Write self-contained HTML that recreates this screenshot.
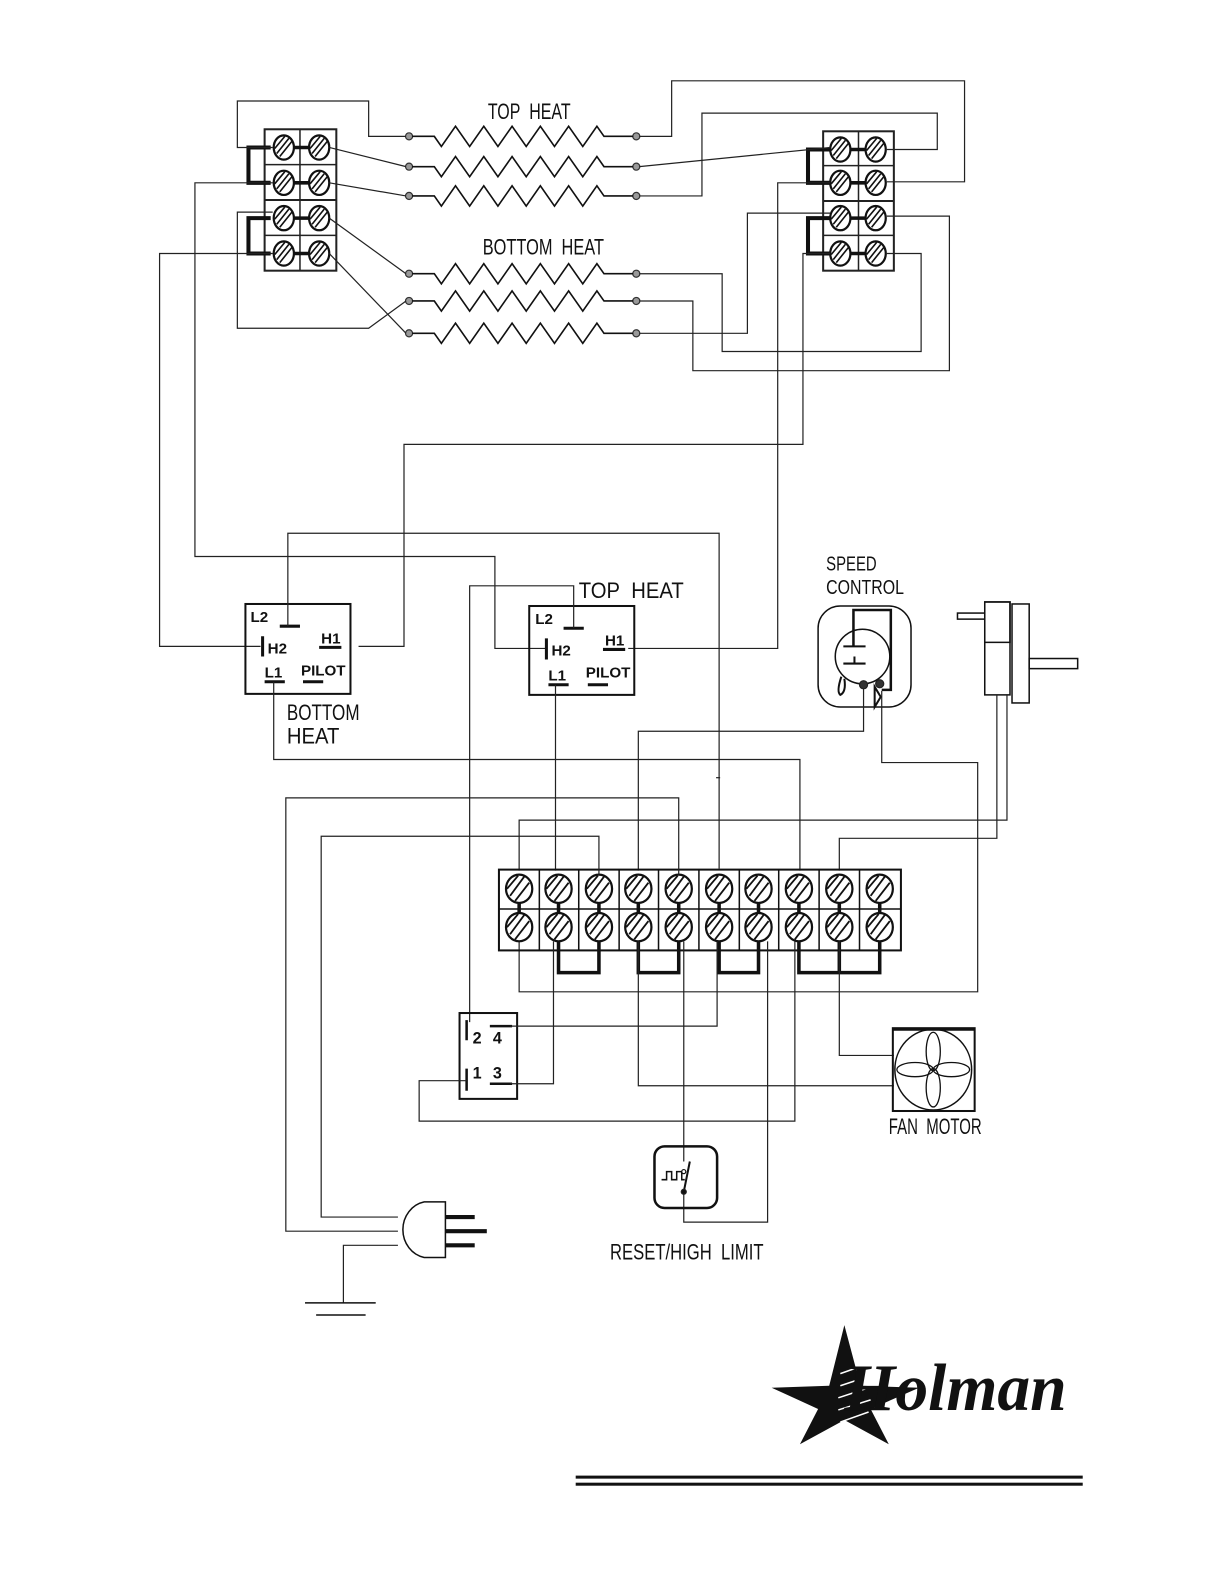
<!DOCTYPE html>
<html><head><meta charset="utf-8"><style>
html,body{margin:0;padding:0;background:#fff;}
svg{display:block}
text{font-family:"Liberation Sans",sans-serif;fill:#111}
</style></head><body>
<svg width="1225" height="1585" viewBox="0 0 1225 1585" xmlns="http://www.w3.org/2000/svg">
<defs>
<g id="sc"><ellipse cx="0" cy="0" rx="10" ry="12" fill="#fff" stroke="#111" stroke-width="2.2"/><line x1="-7" y1="6" x2="5" y2="-9" stroke="#111" stroke-width="1.6"/><line x1="-4" y1="9" x2="8" y2="-6" stroke="#111" stroke-width="1.6"/><line x1="-9" y1="1" x2="1" y2="-11" stroke="#111" stroke-width="1.6"/></g>
<g id="ts"><ellipse cx="0" cy="0" rx="13" ry="14" fill="#fff" stroke="#111" stroke-width="2.2"/><line x1="-9" y1="7" x2="5" y2="-12" stroke="#111" stroke-width="1.8"/><line x1="-4" y1="12" x2="10" y2="-6" stroke="#111" stroke-width="1.8"/><line x1="-12" y1="0" x2="-1" y2="-13" stroke="#111" stroke-width="1.8"/></g>
<g id="res"><circle cx="0" cy="0" r="3.5" fill="#999" stroke="#333"/><circle cx="225" cy="0" r="3.5" fill="#999" stroke="#333"/><path d="M3 0 H25 L32 10 L46 -10 L60 10 L74 -10 L88 10 L102 -10 L116 10 L130 -10 L144 10 L158 -10 L172 10 L186 -10 L193 0 H222" fill="none" stroke="#111" stroke-width="1.6"/></g>
</defs>
<g transform="scale(1.01)" fill="none" stroke="#222" stroke-width="1.2">
<text x="483" y="118" font-size="22" stroke="none" textLength="82" lengthAdjust="spacingAndGlyphs">TOP&#160;&#160;HEAT</text>
<text x="478" y="252" font-size="22" stroke="none" textLength="120" lengthAdjust="spacingAndGlyphs">BOTTOM&#160;&#160;HEAT</text>
<rect x="262" y="128" width="71" height="140" stroke-width="2"/>
<line x1="297" y1="128" x2="297" y2="268" stroke-width="1.5"/>
<line x1="262" y1="163" x2="333" y2="163" stroke-width="1.5"/><line x1="262" y1="198" x2="333" y2="198" stroke-width="2"/><line x1="262" y1="233" x2="333" y2="233" stroke-width="1.5"/>
<path d="M268 146 H246 V181 H268 M268 216 H246 V251 H268" stroke-width="4" stroke="#111"/>
<path d="M291 146 H306 M291 181 H306 M291 216 H306 M291 251 H306" stroke-width="3.5" stroke="#111"/>
<use href="#sc" x="281" y="146"/><use href="#sc" x="316" y="146"/><use href="#sc" x="281" y="181"/><use href="#sc" x="316" y="181"/><use href="#sc" x="281" y="216"/><use href="#sc" x="316" y="216"/><use href="#sc" x="281" y="251"/><use href="#sc" x="316" y="251"/>
<rect x="815" y="130" width="70" height="138" stroke-width="2"/>
<line x1="850" y1="130" x2="850" y2="268" stroke-width="1.5"/>
<line x1="815" y1="164" x2="885" y2="164" stroke-width="1.5"/><line x1="815" y1="199" x2="885" y2="199" stroke-width="2"/><line x1="815" y1="233" x2="885" y2="233" stroke-width="1.5"/>
<path d="M822 148 H800 V181 H822 M822 216 H800 V251 H822" stroke-width="4" stroke="#111"/>
<path d="M842 148 H857 M842 181 H857 M842 216 H857 M842 251 H857" stroke-width="3.5" stroke="#111"/>
<use href="#sc" x="832" y="148"/><use href="#sc" x="867" y="148"/><use href="#sc" x="832" y="181"/><use href="#sc" x="867" y="181"/><use href="#sc" x="832" y="216"/><use href="#sc" x="867" y="216"/><use href="#sc" x="832" y="251"/><use href="#sc" x="867" y="251"/>
<use href="#res" x="405" y="135"/><use href="#res" x="405" y="165"/><use href="#res" x="405" y="194"/>
<use href="#res" x="405" y="271"/><use href="#res" x="405" y="298"/><use href="#res" x="405" y="330"/>
<path d="M270 146 H235 V100 H365 V135 H402"/>
<path d="M326 146 L402 165"/><path d="M326 181 L402 194"/>
<path d="M633 135 H665 V80 H955 V180 H878"/>
<path d="M633 165 L822 146"/>
<path d="M633 194 H695 V112 H928 V148 H878"/>
<path d="M326 216 L402 271"/><path d="M326 251 L402 330"/>
<path d="M402 298 L365 325 H235 V210 H270"/>
<path d="M633 271 H715 V348 H912 V251 H878"/>
<path d="M633 298 H686 V367 H940 V214 H878"/>
<path d="M633 330 H740 V211 H822"/>
<path d="M270 181 H193 V551 H490 V642 H540"/>
<path d="M270 251 H158 V640 H258"/>
<path d="M822 181 H770 V642 H622"/>
<path d="M822 251 H795 V440 H400 V640 H355"/>
<rect x="243" y="598" width="104" height="89" stroke-width="2" stroke="#111"/>
<rect x="524" y="600" width="104" height="88" stroke-width="2" stroke="#111"/>
<g stroke="#111" stroke-width="3"><path d="M277 620 H297 M260 630 V650 M316 641 H338 M262 675 H282 M300 675 H320"/>
<path d="M558 622 H578 M541 632 V653 M597 643 H619 M543 678 H563 M582 678 H602"/></g>
<g stroke="none" font-weight="bold" font-size="15"><text x="248" y="616">L2</text><text x="265" y="647">H2</text><text x="318" y="637">H1</text><text x="262" y="671">L1</text><text x="298" y="669">PILOT</text>
<text x="530" y="618">L2</text><text x="546" y="649">H2</text><text x="599" y="639">H1</text><text x="543" y="674">L1</text><text x="580" y="671">PILOT</text></g>
<text x="284" y="713" font-size="22" stroke="none" textLength="72" lengthAdjust="spacingAndGlyphs">BOTTOM</text>
<text x="284" y="736" font-size="22" stroke="none" textLength="52" lengthAdjust="spacingAndGlyphs">HEAT</text>
<text x="573" y="592" font-size="22" stroke="none" textLength="104" lengthAdjust="spacingAndGlyphs">TOP&#160;&#160;HEAT</text>
<path d="M285 620 V528 H712 V860"/><path d="M709 770 H713"/>
<path d="M568 622 V580 H465 V1012"/>
<path d="M271 675 V752 H792 V862"/>
<path d="M550 678 V862"/>
<text x="818" y="565" font-size="20" stroke="none" textLength="50" lengthAdjust="spacingAndGlyphs">SPEED</text>
<text x="818" y="588" font-size="20" stroke="none" textLength="77" lengthAdjust="spacingAndGlyphs">CONTROL</text>
<rect x="810" y="600" width="92" height="100" rx="22" stroke="#111" stroke-width="1.5"/>
<circle cx="854" cy="650" r="27" stroke="#111" stroke-width="1.5"/>
<path d="M845 640 V604 H882 V683 H873" stroke="#111" stroke-width="2.5"/>
<path d="M835 640 H857 M835 657 H857 M846 650 V657" stroke="#111" stroke-width="2"/>
<circle cx="855" cy="678" r="4" fill="#333"/><circle cx="871" cy="677" r="4" fill="#333"/>
<path d="M833 670 Q828 685 832 688 Q838 685 836 672" stroke="#111" stroke-width="2"/>
<path d="M866 680 L872 690 L866 700 Z" stroke="#111" stroke-width="2"/>
<path d="M855 682 V724 H632 V862"/>
<path d="M873 684 V755 H968 V982 H514 V931"/>
<rect x="975" y="596" width="25" height="92" stroke="#111" stroke-width="1.5"/>
<rect x="975" y="596" width="25" height="40" stroke="#111" stroke-width="1.5"/>
<rect x="1002" y="598" width="17" height="98" stroke="#111" stroke-width="1.5"/>
<rect x="1019" y="652" width="48" height="10" stroke="#111" stroke-width="1.5"/>
<rect x="948" y="607" width="27" height="6" stroke="#111" stroke-width="1.5"/>
<path d="M987 688 V830 H831 V862"/>
<path d="M997 688 V812 H514 V862"/>
<rect x="494" y="861" width="398" height="80" stroke="#111" stroke-width="2"/>
<line x1="494" y1="900" x2="892" y2="900" stroke="#111" stroke-width="1.5"/>
<g stroke="#111" stroke-width="1.5"><line x1="534" y1="861" x2="534" y2="941"/><line x1="573" y1="861" x2="573" y2="941"/><line x1="613" y1="861" x2="613" y2="941"/><line x1="652" y1="861" x2="652" y2="941"/><line x1="692" y1="861" x2="692" y2="941"/><line x1="732" y1="861" x2="732" y2="941"/><line x1="771" y1="861" x2="771" y2="941"/><line x1="811" y1="861" x2="811" y2="941"/><line x1="851" y1="861" x2="851" y2="941"/></g>
<g stroke="#111" stroke-width="3.5"><path d="M514 880 V918 M553 880 V918 M593 880 V918 M632 880 V918 M672 880 V918 M712 880 V918 M751 880 V918 M791 880 V918 M831 880 V918 M871 880 V918"/>
<path d="M553 930 V963 H593 V930 M632 930 V963 H672 V930 M712 930 V963 H751 V930 M791 930 V963 H871 V930 M831 930 V963"/></g>
<use href="#ts" x="514" y="880"/><use href="#ts" x="553" y="880"/><use href="#ts" x="593" y="880"/><use href="#ts" x="632" y="880"/><use href="#ts" x="672" y="880"/><use href="#ts" x="712" y="880"/><use href="#ts" x="751" y="880"/><use href="#ts" x="791" y="880"/><use href="#ts" x="831" y="880"/><use href="#ts" x="871" y="880"/>
<use href="#ts" x="514" y="918"/><use href="#ts" x="553" y="918"/><use href="#ts" x="593" y="918"/><use href="#ts" x="632" y="918"/><use href="#ts" x="672" y="918"/><use href="#ts" x="712" y="918"/><use href="#ts" x="751" y="918"/><use href="#ts" x="791" y="918"/><use href="#ts" x="831" y="918"/><use href="#ts" x="871" y="918"/>
<path d="M593 866 V828 H318 V1205 H394"/>
<path d="M672 866 V790 H283 V1219 H394"/>
<rect x="455" y="1003" width="57" height="85" stroke="#111" stroke-width="2"/>
<g stroke="#111" stroke-width="2.5"><path d="M462 1010 V1030 M485 1016 H507 M462 1058 V1080 M485 1073 H507"/></g>
<g stroke="none" font-size="16" font-weight="bold"><text x="468" y="1033">2</text><text x="488" y="1033">4</text><text x="468" y="1068">1</text><text x="488" y="1068">3</text></g>
<path d="M505 1016 H710 V932"/>
<path d="M505 1073 H548 V932"/>
<path d="M462 1070 H415 V1110 H787 V932"/>
<path d="M632 932 V1075 H885"/>
<path d="M831 932 V1045 H885"/>
<path d="M677 932 V1150"/>
<path d="M677 1180 V1210 H760 V932"/>
<rect x="648" y="1135" width="62" height="61" rx="10" stroke="#111" stroke-width="2.5"/>
<path d="M655 1168 H660 V1160 H665 V1168 H670 V1160 H675 V1168 H678" stroke="#111" stroke-width="1.5"/>
<path d="M677 1180 L683 1150" stroke="#111" stroke-width="2"/>
<circle cx="677" cy="1180" r="2.5" fill="#111"/><circle cx="677" cy="1160" r="2" fill="#fff" stroke="#111"/>
<text x="604" y="1247" font-size="22" stroke="none" textLength="152" lengthAdjust="spacingAndGlyphs">RESET/HIGH&#160;&#160;LIMIT</text>
<rect x="884" y="1018" width="81" height="82" stroke="#111" stroke-width="2"/>
<line x1="884" y1="1019" x2="965" y2="1019" stroke="#111" stroke-width="3"/>
<ellipse cx="924" cy="1059" rx="38" ry="40" stroke="#111" stroke-width="1.5"/>
<ellipse cx="924" cy="1041" rx="7" ry="19" stroke="#111" stroke-width="1.3"/><ellipse cx="924" cy="1077" rx="7" ry="19" stroke="#111" stroke-width="1.3"/>
<ellipse cx="906" cy="1059" rx="18" ry="7" stroke="#111" stroke-width="1.3"/><ellipse cx="942" cy="1059" rx="18" ry="7" stroke="#111" stroke-width="1.3"/>
<text x="880" y="1123" font-size="22" stroke="none" textLength="92" lengthAdjust="spacingAndGlyphs">FAN&#160;&#160;MOTOR</text>
<path d="M441 1190 H420 A26 28 0 0 0 420 1245 H441 Z" stroke="#111" stroke-width="1.5"/>
<g stroke="#111" stroke-width="4"><path d="M441 1205 H470 M441 1219 H482 M441 1233 H470"/></g>
<path d="M394 1233 H340 V1290"/>
<path d="M302 1290 H372 M313 1302 H362" stroke="#111" stroke-width="1.5"/>
<path d="M836 1312 L852 1372 L910 1374 L862 1395 L880 1430 L836 1406 L792 1430 L810 1395 L764 1374 L821 1372 Z" fill="#111" stroke="none"/>
<g stroke="#fff" stroke-width="1.5"><path d="M832 1360 L866 1348 M832 1372 L868 1360 M830 1384 L866 1372 M830 1396 L862 1386 M832 1408 L860 1398"/></g>
<text x="836" y="1396" font-style="italic" font-weight="bold" font-size="66" stroke="none" textLength="220" lengthAdjust="spacingAndGlyphs" style="font-family:'Liberation Serif',serif">Holman</text>
<rect x="570" y="1461" width="502" height="3" fill="#111" stroke="none"/>
<rect x="570" y="1468" width="502" height="3" fill="#111" stroke="none"/>
</g>
</svg>
</body></html>
